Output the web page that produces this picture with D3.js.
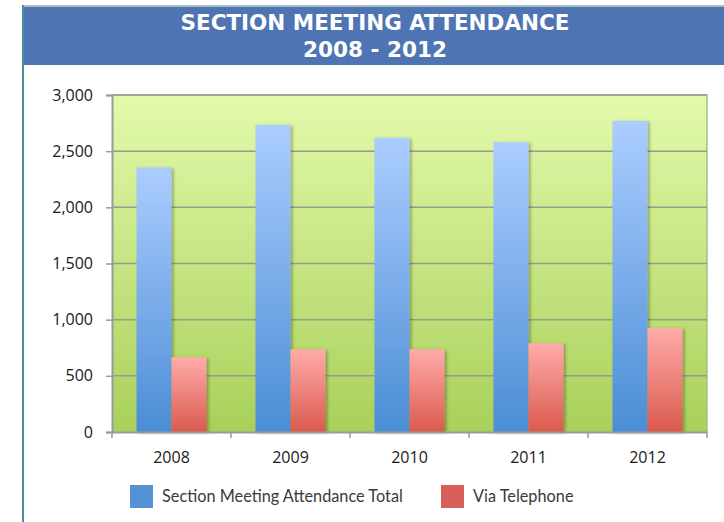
<!DOCTYPE html>
<html>
<head>
<meta charset="utf-8">
<script src="https://cdn.jsdelivr.net/npm/d3@7"></script>
<style>
  html, body { margin: 0; padding: 0; background: #fff; }
  svg { display: block; }
</style>
</head>
<body>
<svg id="chart" width="724" height="522"></svg>
<script>
const titleLines = ["SECTION MEETING ATTENDANCE", "2008 - 2012"];
const years = ["2008", "2009", "2010", "2011", "2012"];
const totalAttendance = [2355, 2735, 2620, 2580, 2770];
const viaTelephone = [665, 735, 735, 790, 925];
const seriesNames = ["Section Meeting Attendance Total", "Via Telephone"];
const yTicks = [0, 500, 1000, 1500, 2000, 2500, 3000];

const svg = d3.select("#chart");
const defs = svg.append("defs");

function vGrad(id, top, bottom) {
  const g = defs.append("linearGradient").attr("id", id)
    .attr("x1", 0).attr("y1", 0).attr("x2", 0).attr("y2", 1);
  g.append("stop").attr("offset", "0%").attr("stop-color", top);
  g.append("stop").attr("offset", "100%").attr("stop-color", bottom);
}
vGrad("plotBg", "#e3faab", "#a9d05a");
vGrad("blueGrad", "#abcdff", "#4b8dd5");
vGrad("redGrad", "#ffabaa", "#da5a4d");

const f = defs.append("filter").attr("id", "shadow")
  .attr("x", "-20%").attr("y", "-5%").attr("width", "150%").attr("height", "115%");
f.append("feDropShadow").attr("dx", 2).attr("dy", 1).attr("stdDeviation", 1.5)
  .attr("flood-color", "#000").attr("flood-opacity", 0.3);

// Frame and header
svg.append("rect").attr("x", 22).attr("y", 5).attr("width", 702).attr("height", 2).attr("fill", "#a9c0c6");
svg.append("rect").attr("x", 22).attr("y", 5).attr("width", 2).attr("height", 517).attr("fill", "#4f8b9b");
svg.append("rect").attr("x", 24).attr("y", 7).attr("width", 700).attr("height", 58).attr("fill", "#4f74b4");

const titleWidths = [389, 144];
svg.selectAll("text.title").data(titleLines).enter().append("text")
  .attr("class", "title")
  .attr("x", 375).attr("y", (d, i) => 30 + i * 27)
  .attr("text-anchor", "middle")
  .attr("textLength", (d, i) => titleWidths[i])
  .attr("lengthAdjust", "spacingAndGlyphs")
  .style("font-family", "'DejaVu Sans Condensed', 'DejaVu Sans', sans-serif")
  .style("font-weight", "bold")
  .style("font-size", "22px")
  .attr("fill", "#ffffff")
  .text(d => d);

// Plot
const plot = { left: 112, right: 707, top: 95, bottom: 432 };
const x = d3.scaleBand().domain(years).range([plot.left, plot.right]).paddingInner(0).paddingOuter(0);
const y = d3.scaleLinear().domain([0, 3000]).range([plot.bottom, plot.top]);

svg.append("rect").attr("x", plot.left).attr("y", plot.top)
  .attr("width", plot.right - plot.left).attr("height", plot.bottom - plot.top)
  .attr("fill", "url(#plotBg)");
svg.append("path")
  .attr("d", `M${plot.left},${plot.top}H${plot.right}V${plot.bottom}`)
  .attr("fill", "none").attr("stroke", "#a9bd86").attr("stroke-width", 1.5);

// gridlines
svg.append("g").selectAll("line").data(yTicks.filter(d => d > 0)).enter().append("line")
  .attr("x1", plot.left).attr("x2", plot.right)
  .attr("y1", d => y(d)).attr("y2", d => y(d))
  .attr("stroke", "#9a9a94").attr("stroke-width", 1.5);

// bars
const barW = 35;
const groups = svg.append("g").selectAll("g").data(years).enter().append("g");
groups.append("rect")
  .attr("x", d => x(d) + x.bandwidth() / 2 - barW)
  .attr("y", (d, i) => y(totalAttendance[i]))
  .attr("width", barW)
  .attr("height", (d, i) => y(0) - y(totalAttendance[i]))
  .attr("fill", "url(#blueGrad)")
  .attr("filter", "url(#shadow)");
groups.append("rect")
  .attr("x", d => x(d) + x.bandwidth() / 2)
  .attr("y", (d, i) => y(viaTelephone[i]))
  .attr("width", barW)
  .attr("height", (d, i) => y(0) - y(viaTelephone[i]))
  .attr("fill", "url(#redGrad)")
  .attr("filter", "url(#shadow)");

// Y axis
const yAxis = d3.axisLeft(y).tickValues(yTicks).tickSize(6).tickPadding(13)
  .tickFormat(d3.format(","));
const yg = svg.append("g").attr("transform", `translate(${plot.left},0)`).call(yAxis);
yg.select(".domain").attr("stroke", "#9a9a9a").attr("stroke-width", 2);
yg.selectAll(".tick line").attr("stroke", "#9a9a9a").attr("stroke-width", 1.5);
yg.selectAll(".tick text")
  .style("font-family", "'Open Sans', sans-serif").style("font-size", "16px")
  .attr("fill", "#1a1a1a");

// X axis
const xg = svg.append("g").attr("transform", `translate(0,${plot.bottom})`)
  .call(d3.axisBottom(x).tickSize(0).tickPadding(20));
xg.select(".domain").attr("stroke", "#9a9a9a").attr("stroke-width", 2);
xg.selectAll(".tick text")
  .style("font-family", "'Open Sans', sans-serif").style("font-size", "16px")
  .attr("fill", "#1a1a1a");
const boundaries = years.map(d => x(d)).concat([plot.right]);
xg.selectAll("line.bt").data(boundaries).enter().append("line").attr("class", "bt")
  .attr("x1", d => d).attr("x2", d => d).attr("y1", 0).attr("y2", 6)
  .attr("stroke", "#9a9a9a").attr("stroke-width", 1.5);

// Legend
const legendColors = ["#5592d3", "#d9605a"];
const legendX = [130, 441];
const lg = svg.append("g").selectAll("g").data(seriesNames).enter().append("g")
  .attr("transform", (d, i) => `translate(${legendX[i]},485)`);
lg.append("rect").attr("width", 23).attr("height", 23).attr("fill", (d, i) => legendColors[i]);
lg.append("text").attr("x", 32).attr("y", 17)
  .style("font-family", "Lato, sans-serif").style("font-size", "16.3px")
  .attr("fill", "#3a3a3a")
  .text(d => d);
</script>
</body>
</html>
